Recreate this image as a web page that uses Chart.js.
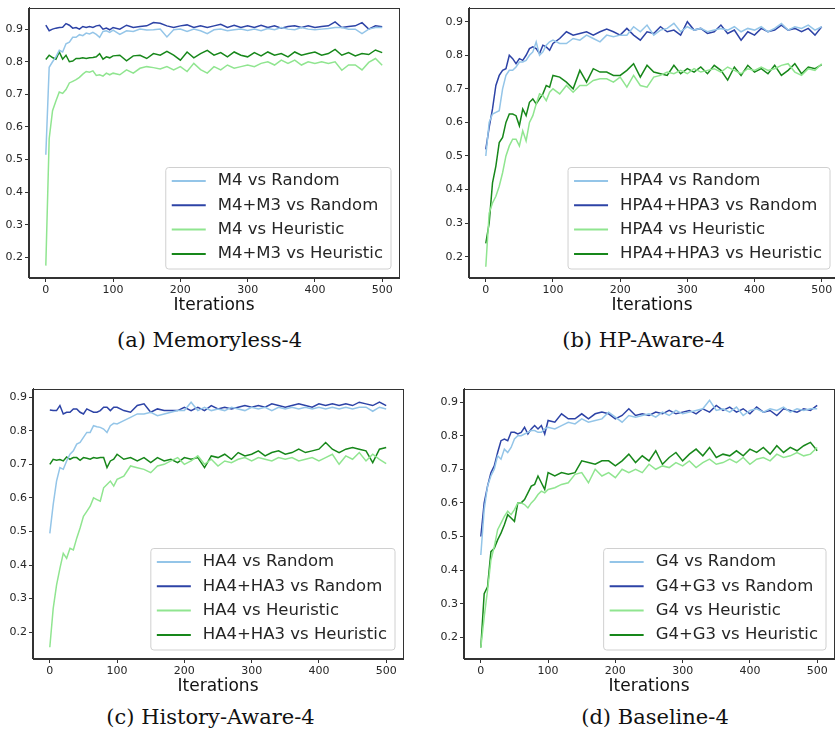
<!DOCTYPE html>
<html>
<head>
<meta charset="utf-8">
<script src="https://cdn.jsdelivr.net/npm/chart.js@4.4.0/dist/chart.umd.min.js"></script>
<style>
  html, body { margin: 0; padding: 0; background: #fff; overflow: hidden; width: 835px; height: 737px; }
  .panel { position: absolute; }
  .caption { position: absolute; width: 300px; text-align: center; font-family: "DejaVu Serif", serif; font-size: 21px; line-height: 24px; color: #111; }
</style>
</head>
<body>
<script>
// iteration grid (every 5 early on, then every 10)
var iterations = [0,5,10,15,20,25,30,35,40,45,50,55,60,65,70,75,80,85,90,95,100,
  110,120,130,140,150,160,170,180,190,200,210,220,230,240,250,260,270,280,290,300,
  310,320,330,340,350,360,370,380,390,400,410,420,430,440,450,460,470,480,490,500];
var xTicks = [0, 100, 200, 300, 400, 500];
var yTicks = [0.2, 0.3, 0.4, 0.5, 0.6, 0.7, 0.8, 0.9];
var colors = ['#94c5e8', '#2d43a6', '#90e590', '#17871a'];

// (a) Memoryless-4
var aLabels = ['M4 vs Random', 'M4+M3 vs Random', 'M4 vs Heuristic', 'M4+M3 vs Heuristic'];
var aRandom = [0.515,0.783,0.80,0.815,0.835,0.83,0.855,0.86,0.875,0.875,0.883,0.88,0.888,0.885,0.89,0.884,0.875,0.893,0.895,0.89,0.897,
  0.884,0.895,0.893,0.9,0.897,0.898,0.9,0.876,0.898,0.9,0.893,0.9,0.895,0.886,0.898,0.9,0.895,0.898,0.9,0.896,
  0.9,0.895,0.902,0.898,0.905,0.9,0.898,0.905,0.9,0.898,0.9,0.902,0.905,0.905,0.9,0.9,0.886,0.9,0.905,0.905];
var aRandom2 = [0.912,0.895,0.9,0.903,0.905,0.906,0.917,0.912,0.903,0.905,0.9,0.908,0.905,0.908,0.905,0.91,0.912,0.9,0.903,0.898,0.905,
  0.9,0.912,0.905,0.908,0.91,0.92,0.918,0.91,0.905,0.91,0.913,0.905,0.91,0.905,0.91,0.915,0.905,0.912,0.905,0.91,
  0.905,0.912,0.905,0.91,0.903,0.908,0.91,0.905,0.91,0.905,0.908,0.91,0.922,0.905,0.908,0.91,0.92,0.9,0.91,0.907];
var aHeur = [0.175,0.564,0.65,0.68,0.707,0.703,0.715,0.735,0.74,0.745,0.752,0.762,0.77,0.768,0.772,0.758,0.76,0.756,0.765,0.76,0.765,
  0.76,0.775,0.765,0.78,0.785,0.782,0.778,0.785,0.775,0.785,0.77,0.795,0.776,0.765,0.785,0.775,0.79,0.78,0.785,0.79,
  0.785,0.795,0.8,0.79,0.805,0.795,0.805,0.79,0.8,0.795,0.8,0.795,0.8,0.774,0.79,0.79,0.775,0.798,0.81,0.789];
var aHeur2 = [0.807,0.82,0.813,0.808,0.83,0.808,0.82,0.8,0.802,0.81,0.81,0.812,0.81,0.812,0.813,0.815,0.825,0.808,0.815,0.812,0.818,
  0.82,0.803,0.818,0.82,0.81,0.825,0.82,0.832,0.82,0.805,0.83,0.812,0.825,0.835,0.82,0.828,0.815,0.83,0.82,0.815,
  0.828,0.818,0.83,0.82,0.825,0.815,0.83,0.82,0.825,0.83,0.82,0.825,0.838,0.82,0.828,0.818,0.825,0.822,0.836,0.828];

// (b) HP-Aware-4
var bLabels = ['HPA4 vs Random', 'HPA4+HPA3 vs Random', 'HPA4 vs Heuristic', 'HPA4+HPA3 vs Heuristic'];
var bRandom = [0.5,0.6,0.625,0.63,0.635,0.7,0.74,0.755,0.755,0.765,0.78,0.78,0.785,0.8,0.81,0.84,0.8,0.81,0.83,0.84,0.845,
  0.835,0.835,0.85,0.845,0.86,0.85,0.84,0.86,0.855,0.86,0.86,0.885,0.87,0.89,0.86,0.875,0.88,0.895,0.87,0.885,
  0.875,0.88,0.87,0.875,0.88,0.875,0.885,0.87,0.88,0.875,0.885,0.87,0.88,0.895,0.875,0.885,0.88,0.89,0.875,0.885];
var bRandom2 = [0.52,0.585,0.64,0.71,0.74,0.755,0.76,0.8,0.79,0.775,0.79,0.785,0.8,0.82,0.825,0.82,0.805,0.83,0.825,0.815,0.835,
  0.85,0.87,0.86,0.865,0.87,0.86,0.87,0.878,0.87,0.86,0.88,0.86,0.845,0.87,0.865,0.885,0.87,0.875,0.86,0.9,
  0.875,0.88,0.865,0.87,0.89,0.865,0.875,0.845,0.87,0.86,0.88,0.87,0.875,0.89,0.875,0.88,0.87,0.88,0.86,0.885];
var bHeur = [0.17,0.33,0.36,0.38,0.41,0.45,0.5,0.53,0.55,0.55,0.53,0.575,0.545,0.6,0.62,0.655,0.685,0.68,0.665,0.69,0.7,
  0.685,0.71,0.69,0.71,0.71,0.725,0.73,0.73,0.72,0.735,0.705,0.74,0.71,0.705,0.735,0.74,0.75,0.745,0.755,0.745,
  0.76,0.75,0.755,0.76,0.75,0.765,0.755,0.745,0.76,0.755,0.765,0.755,0.76,0.77,0.775,0.75,0.74,0.76,0.755,0.775];
var bHeur2 = [0.24,0.3,0.42,0.47,0.54,0.555,0.6,0.625,0.625,0.62,0.59,0.64,0.62,0.66,0.67,0.655,0.67,0.685,0.71,0.705,0.74,
  0.735,0.72,0.7,0.755,0.72,0.76,0.75,0.75,0.74,0.74,0.755,0.775,0.735,0.77,0.75,0.745,0.74,0.77,0.745,0.76,
  0.75,0.765,0.745,0.77,0.755,0.726,0.765,0.74,0.77,0.75,0.76,0.745,0.77,0.74,0.755,0.775,0.745,0.765,0.76,0.772];

// (c) History-Aware-4
var cLabels = ['HA4 vs Random', 'HA4+HA3 vs Random', 'HA4 vs Heuristic', 'HA4+HA3 vs Heuristic'];
var cRandom = [0.494,0.58,0.65,0.69,0.685,0.71,0.73,0.74,0.76,0.765,0.78,0.795,0.795,0.815,0.812,0.81,0.805,0.795,0.815,0.822,0.82,
  0.83,0.84,0.85,0.85,0.855,0.845,0.85,0.855,0.86,0.86,0.885,0.86,0.87,0.86,0.865,0.86,0.87,0.865,0.86,0.87,
  0.865,0.87,0.86,0.87,0.865,0.87,0.865,0.87,0.865,0.87,0.865,0.87,0.865,0.87,0.865,0.87,0.87,0.858,0.87,0.865];
var cRandom2 = [0.862,0.86,0.86,0.875,0.85,0.855,0.855,0.865,0.865,0.855,0.85,0.865,0.86,0.855,0.855,0.86,0.87,0.87,0.86,0.87,0.87,
  0.86,0.855,0.875,0.88,0.855,0.865,0.86,0.86,0.86,0.87,0.86,0.87,0.86,0.875,0.865,0.87,0.865,0.87,0.875,0.87,
  0.875,0.87,0.88,0.875,0.87,0.875,0.88,0.875,0.87,0.88,0.875,0.88,0.875,0.88,0.875,0.885,0.88,0.875,0.885,0.875];
var cHeur = [0.155,0.27,0.34,0.39,0.435,0.42,0.45,0.445,0.48,0.51,0.545,0.56,0.575,0.6,0.595,0.59,0.63,0.64,0.65,0.635,0.655,
  0.665,0.695,0.69,0.685,0.675,0.695,0.7,0.71,0.72,0.7,0.71,0.725,0.7,0.715,0.695,0.71,0.705,0.715,0.72,0.71,
  0.72,0.715,0.71,0.72,0.715,0.72,0.71,0.715,0.72,0.71,0.72,0.73,0.7,0.725,0.715,0.735,0.71,0.73,0.715,0.702];
var cHeur2 = [0.7,0.715,0.712,0.714,0.71,0.722,0.715,0.72,0.72,0.712,0.72,0.718,0.715,0.72,0.718,0.72,0.72,0.69,0.71,0.715,0.73,
  0.715,0.72,0.71,0.72,0.705,0.72,0.71,0.715,0.705,0.72,0.715,0.72,0.69,0.725,0.72,0.73,0.715,0.735,0.725,0.73,
  0.74,0.725,0.735,0.74,0.73,0.735,0.745,0.735,0.74,0.745,0.765,0.745,0.735,0.745,0.75,0.745,0.74,0.705,0.745,0.75];

// (d) Baseline-4
var dLabels = ['G4 vs Random', 'G4+G3 vs Random', 'G4 vs Heuristic', 'G4+G3 vs Heuristic'];
var dRandom = [0.445,0.58,0.65,0.68,0.7,0.74,0.73,0.76,0.75,0.765,0.79,0.8,0.8,0.805,0.81,0.815,0.815,0.81,0.81,0.82,0.825,
  0.82,0.83,0.84,0.835,0.85,0.84,0.845,0.85,0.87,0.855,0.84,0.86,0.855,0.86,0.865,0.855,0.87,0.86,0.875,0.865,
  0.87,0.875,0.88,0.905,0.875,0.88,0.87,0.885,0.86,0.875,0.88,0.87,0.88,0.875,0.885,0.87,0.88,0.875,0.88,0.88];
var dRandom2 = [0.5,0.6,0.65,0.69,0.71,0.75,0.785,0.79,0.785,0.81,0.81,0.805,0.81,0.825,0.805,0.82,0.83,0.82,0.83,0.805,0.845,
  0.84,0.865,0.85,0.85,0.865,0.85,0.865,0.87,0.865,0.85,0.86,0.88,0.86,0.865,0.86,0.87,0.865,0.875,0.865,0.87,
  0.875,0.865,0.88,0.87,0.89,0.875,0.885,0.87,0.88,0.865,0.885,0.87,0.875,0.86,0.88,0.875,0.87,0.88,0.875,0.89];
var dHeur = [0.17,0.26,0.34,0.43,0.47,0.52,0.54,0.56,0.575,0.565,0.58,0.6,0.6,0.595,0.585,0.6,0.61,0.625,0.635,0.63,0.64,
  0.645,0.655,0.66,0.685,0.69,0.66,0.7,0.68,0.69,0.675,0.7,0.69,0.7,0.69,0.715,0.7,0.71,0.705,0.72,0.71,
  0.725,0.705,0.72,0.73,0.715,0.72,0.73,0.72,0.735,0.715,0.73,0.735,0.725,0.745,0.735,0.74,0.75,0.74,0.745,0.765];
var dHeur2 = [0.17,0.33,0.35,0.455,0.465,0.49,0.51,0.535,0.565,0.555,0.545,0.6,0.6,0.61,0.63,0.65,0.655,0.68,0.66,0.64,0.69,
  0.68,0.69,0.685,0.69,0.725,0.72,0.715,0.725,0.725,0.71,0.725,0.745,0.72,0.74,0.725,0.755,0.715,0.735,0.75,0.725,
  0.745,0.76,0.74,0.765,0.735,0.745,0.74,0.755,0.74,0.76,0.75,0.765,0.745,0.77,0.75,0.765,0.755,0.77,0.78,0.755];

// plot frame (all four spines)
var frame = {
  id: 'frame',
  afterDatasetsDraw: function(chart) {
    var a = chart.chartArea, ctx = chart.ctx;
    ctx.save();
    ctx.strokeStyle = '#333';
    ctx.lineWidth = 1;
    ctx.strokeRect(Math.round(a.left) - 0.5, Math.round(a.top) + 0.5, Math.round(a.right - a.left) + 1, Math.round(a.bottom - a.top) - 1);
    ctx.restore();
  }
};

// matplotlib-like legend box in the lower right
var boxLegend = {
  id: 'boxLegend',
  afterDraw: function(chart) {
    var ctx = chart.ctx, area = chart.chartArea, sets = chart.data.datasets;
    var gap = chart.options.plugins.boxLegend.right;
    ctx.save();
    ctx.font = '16.5px "DejaVu Sans"';
    var textW = Math.max.apply(null, sets.map(function(d) { return ctx.measureText(d.label).width; }));
    var w = 6 + 34 + 12 + textW + 8, h = 101.5;
    var x0 = area.right - gap - w, y0 = area.bottom - 9 - h;
    ctx.beginPath();
    ctx.roundRect(x0, y0, w, h, 3);
    ctx.fillStyle = 'rgba(255,255,255,0.8)';
    ctx.fill();
    ctx.strokeStyle = '#d0d0d0';
    ctx.lineWidth = 1;
    ctx.stroke();
    sets.forEach(function(d, i) {
      var y = y0 + 13.5 + i * 24.3;
      ctx.beginPath();
      ctx.moveTo(x0 + 6, y);
      ctx.lineTo(x0 + 40, y);
      ctx.strokeStyle = d.borderColor;
      ctx.lineWidth = 2;
      ctx.stroke();
      ctx.fillStyle = '#262626';
      ctx.textBaseline = 'middle';
      ctx.fillText(d.label, x0 + 52, y);
    });
    ctx.restore();
  }
};

function drawPanel(box, xMax, yRange, labels, series, caption, capX, capY) {
  var padRight = box.padRight;
  var wrap = document.createElement('div');
  wrap.className = 'panel';
  wrap.style.left = (box.left - 40) + 'px';
  wrap.style.top = (box.top - 4) + 'px';
  wrap.style.width = (box.right - box.left + 40 + padRight) + 'px';
  wrap.style.height = (box.bottom - box.top + 42) + 'px';
  var canvas = document.createElement('canvas');
  wrap.appendChild(canvas);
  document.body.appendChild(wrap);

  var cap = document.createElement('div');
  cap.className = 'caption';
  cap.textContent = caption;
  cap.style.left = (capX - 150) + 'px';
  cap.style.top = (capY - 12) + 'px';
  document.body.appendChild(cap);

  var tickFont = { size: 11, family: 'DejaVu Sans' };

  new Chart(canvas, {
    type: 'line',
    data: {
      datasets: series.map(function(s, i) {
        return {
          label: labels[i],
          data: iterations.map(function(x, j) { return { x: x, y: s[j] }; }),
          borderColor: colors[i],
          borderWidth: 1.5,
          pointRadius: 0,
          fill: false,
          tension: 0
        };
      })
    },
    options: {
      responsive: true,
      maintainAspectRatio: false,
      animation: false,
      layout: { padding: { left: 0, top: 4, right: padRight, bottom: 0 } },
      plugins: { legend: { display: false }, tooltip: { enabled: false }, boxLegend: { right: box.legendGap } },
      scales: {
        x: {
          type: 'linear',
          min: -25,
          max: xMax,
          afterBuildTicks: function(s) { s.ticks = xTicks.map(function(v) { return { value: v }; }); },
          afterFit: function(s) { s.height = 38; },
          ticks: { font: tickFont, color: '#262626', padding: 2, maxRotation: 0, autoSkip: false, callback: function(v) { return v; } },
          grid: { drawOnChartArea: false, tickLength: 4, color: '#333' },
          border: { color: '#333', width: 1 },
          title: { display: true, text: 'Iterations', font: { size: 17, family: 'DejaVu Sans' }, color: '#111', padding: 0 }
        },
        y: {
          type: 'linear',
          min: yRange[0],
          max: yRange[1],
          afterBuildTicks: function(s) { s.ticks = yTicks.map(function(v) { return { value: v }; }); },
          afterFit: function(s) { s.width = 40; },
          ticks: { font: tickFont, color: '#262626', padding: 2, autoSkip: false, callback: function(v) { return v.toFixed(1); } },
          grid: { drawOnChartArea: false, tickLength: 4, color: '#333' },
          border: { color: '#333', width: 1 }
        }
      }
    },
    plugins: [frame, boxLegend]
  });
}

drawPanel({ left: 29, right: 399, top: 3, bottom: 278, padRight: 6, legendGap: 8 }, 525, [0.137, 0.966], aLabels,
  [aRandom, aRandom2, aHeur, aHeur2], '(a) Memoryless-4', 209.5, 340);
// right spine of (b) falls just outside the figure
drawPanel({ left: 469, right: 835, top: 3, bottom: 278, padRight: 0, legendGap: 5 }, 519.8, [0.1365, 0.942], bLabels,
  [bRandom, bRandom2, bHeur, bHeur2], '(b) HP-Aware-4', 643.5, 340);
drawPanel({ left: 33, right: 403, top: 384, bottom: 659, padRight: 6, legendGap: 8 }, 525, [0.12, 0.9255], cLabels,
  [cRandom, cRandom2, cHeur, cHeur2], '(c) History-Aware-4', 210.5, 717);
drawPanel({ left: 464, right: 834, top: 384, bottom: 659, padRight: 1, legendGap: 8 }, 525, [0.1356, 0.94], dLabels,
  [dRandom, dRandom2, dHeur, dHeur2], '(d) Baseline-4', 655, 717);
</script>
</body>
</html>
